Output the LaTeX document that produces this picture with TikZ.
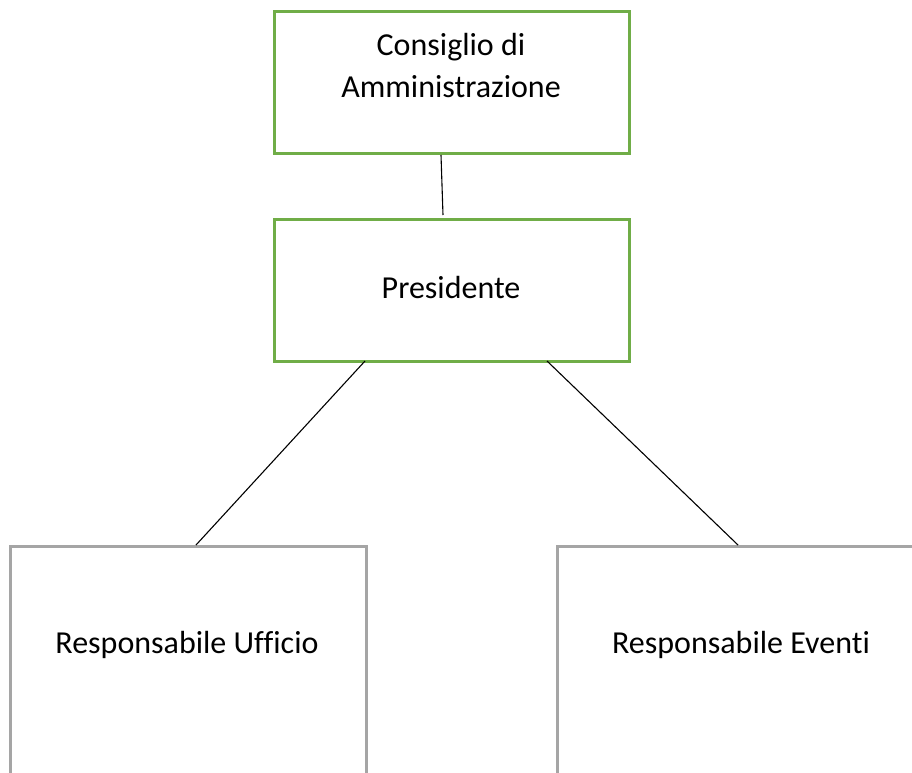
\documentclass[tikz,border=0pt]{standalone}
\usepackage{fontspec}
\setmainfont{Carlito}[Ligatures=NoCommon]
\definecolor{boxgreen}{HTML}{70AD47}
\definecolor{boxgray}{HTML}{A5A5A5}
\begin{document}
\begin{tikzpicture}[x=1pt,y=-1pt,
  gbox/.style={draw=boxgreen, line width=2.5pt, minimum width=355pt, minimum height=142pt, inner sep=0pt, anchor=north west},
  graybox/.style={draw=boxgray, line width=2.5pt, minimum width=356pt, minimum height=260pt, inner sep=0pt, anchor=north west},
  lbl/.style={font=\fontsize{32}{42}\selectfont, align=center, inner sep=0pt},
  conn/.style={draw=black, line width=1.1pt}]
\useasboundingbox (0,0) rectangle (912,772);
\clip (0,0) rectangle (912,772);
\fill[white] (0,0) rectangle (912,772);
% boxes
\node[gbox] (cda) at (273,10) {};
\node[gbox] (pres) at (273,218) {};
\node[graybox] (ruff) at (9,545) {};
\node[graybox] (rev) at (556,545) {};
% labels
\node[lbl] (cdat) at (451,66) {Consiglio di\\Amministrazione};
\node[lbl] (prest) at (451,287) {Presidente};
\node[lbl] (rufft) at (187,645) {Responsabile Ufficio};
\node[lbl] (revt) at (741,645) {Responsabile Eventi};
% connector anchor points
\coordinate (c1) at (441,155);
\coordinate (c2) at (443,215);
\coordinate (p1) at (365,361);
\coordinate (p2) at (547,361);
\coordinate (u1) at (196,545);
\coordinate (e1) at (738,545);
\draw[conn] (c1) -- (c2);
\draw[conn] (p1) -- (u1);
\draw[conn] (p2) -- (e1);
\end{tikzpicture}
\end{document}
